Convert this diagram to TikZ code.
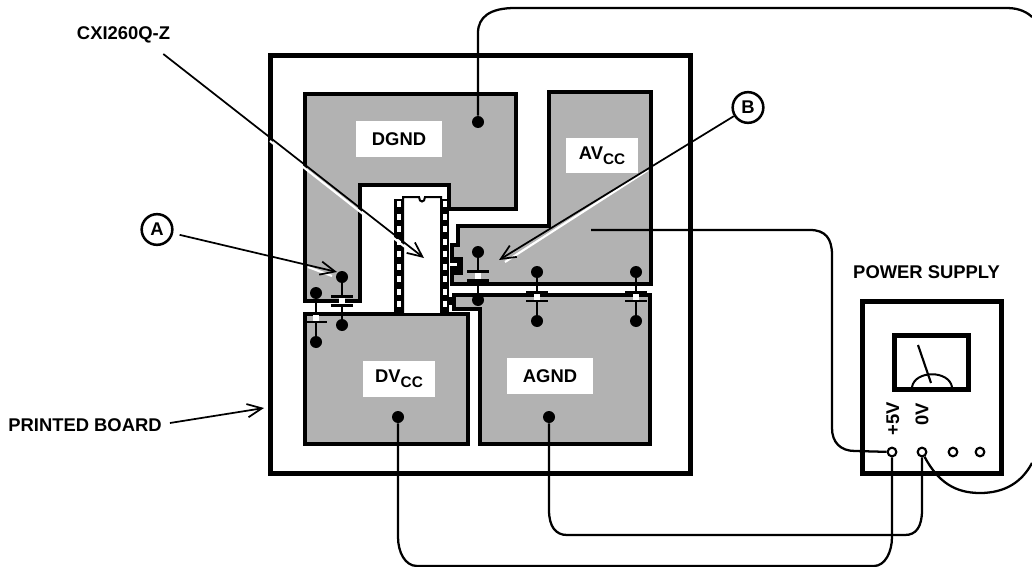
\documentclass[tikz,border=0pt]{standalone}
\usepackage{fontspec}
\setmainfont{Liberation Sans}
\usetikzlibrary{arrows.meta,calc}
\definecolor{plane}{gray}{0.70}
\newcommand{\subcc}{\raisebox{-3.5pt}{\fontsize{11.5}{12}\selectfont CC}}
\tikzset{
 x=0.75pt,y=-0.75pt,
 boardline/.style={line width=3.75pt,line join=miter},
 planeshape/.style={draw=black,fill=plane,line width=3pt,line join=miter},
 wire/.style={line width=1.7pt},
 dot/.style={circle,fill=black,inner sep=0pt,minimum size=9pt},
 hole/.style={circle,draw=black,fill=white,line width=1.6pt,inner sep=0pt,minimum size=6.5pt},
 lbl/.style={font=\bfseries\fontsize{13.8}{16}\selectfont,text=black,inner sep=0pt},
 planelbl/.style={lbl,fill=white,minimum width=#1,minimum height=27pt},
 callout/.style={circle,draw=black,line width=1.9pt,fill=white,inner sep=0pt,minimum size=23pt,font=\bfseries\fontsize{13.8}{16}\selectfont},
 pointer/.style={line width=1.3pt,-{Straight Barb[length=11pt,width=10pt,line width=1.3pt]}},
 glint/.style={white,line width=1.6pt},
 plate/.style={line width=2pt},
}
\newcommand{\capv}[4]{% name, x, top dot y, bottom dot y : plates midway
 \node[dot] (#1t) at (#2,#3) {};
 \node[dot] (#1b) at (#2,#4) {};
 \draw[line width=1.6pt] (#1t) -- (#1b);
 \fill[white] ($(#2,#3)!0.5!(#2,#4)+(-3,-3)$) rectangle ($(#2,#3)!0.5!(#2,#4)+(3,3)$);
 \draw[plate] ($(#2,#3)!0.5!(#2,#4)+(-11,-4.5)$) -- ($(#2,#3)!0.5!(#2,#4)+(11,-4.5)$);
 \draw[plate] ($(#2,#3)!0.5!(#2,#4)+(-11,4.5)$) -- ($(#2,#3)!0.5!(#2,#4)+(11,4.5)$);
}
\begin{document}
\begin{tikzpicture}
\useasboundingbox (0,0) rectangle (1032,567);
% board
\draw[boardline] (270.5,55.5) rectangle (690,473.5);
% planes
\draw[planeshape] (305,94.5) -- (516,94.5) -- (516,209) -- (449,209) -- (449,185) -- (360,185) -- (360,301) -- (305,301) -- cycle;
\draw[planeshape] (549,92.5) -- (650.5,92.5) -- (650.5,283.5) -- (452,283.5) -- (452,245) -- (458,245) -- (458,225.5) -- (549,225.5) -- cycle;
\draw[planeshape] (305,314) -- (468,314) -- (468,443.5) -- (305,443.5) -- cycle;
\draw[planeshape] (454,295) -- (650,295) -- (650,443.5) -- (480,443.5) -- (480,308.5) -- (454,308.5) -- cycle;
% chip
\fill[black] (394,199) rectangle (403,314);
\fill[black] (440,199) rectangle (449,314);
\draw[line width=1.5pt,fill=white] (403,197) -- (419,197) .. controls (419,203) and (425,203) .. (425,197) -- (441,197) -- (441,314) -- (403,314) -- cycle;
\foreach \y in {204,217,229,242,254,267,279,292,304}{
 \fill[white] (397,\y-3) rectangle (401,\y+3);
 \fill[white] (443,\y-3) rectangle (447,\y+3);
}
% chip tab
\fill[black] (450,257) rectangle (463,275);
\fill[white] (450,262.5) rectangle (457,266);
\fill[black] (447,297) rectangle (454,305);
% capacitors
\capv{ca}{342}{277}{325}
\capv{cb}{316}{293}{342}
\capv{cc}{478}{252}{300}
\capv{cd}{537}{272}{321}
\capv{ce}{636}{272}{321}
% labels
\node[planelbl=64.5pt] (dgndl) at (399,139) {DGND};
\node[planelbl=54pt,minimum height=26pt] (avccl) at (602,155.5) {\raisebox{-2.5pt}{AV\subcc}};
\node[planelbl=54pt] (dvccl) at (399,379) {\raisebox{-1pt}{DV\subcc}};
\node[planelbl=64.5pt] (agndl) at (550,376) {AGND};
\node[lbl] (chipl) at (123.5,34.5) {CXI260Q-Z};
\node[lbl] (boardl) at (85,425) {PRINTED BOARD};
\node[lbl] (psl) at (926.5,272) {POWER SUPPLY};
\node[callout] (ca1) at (157,229.5) {A};
\node[callout] (cb1) at (748,107.5) {B};
% wire dots
\node[dot] (dg) at (478,122) {};
\coordinate (av) at (591,230);
\node[dot] (dv) at (398,417) {};
\node[dot] (ag) at (549,417) {};
% power supply
\draw[boardline] (862.5,301) rectangle (1001,473.5);
\draw[line width=3.75pt] (894.5,335) rectangle (968.5,389);
\draw[line width=1.5pt] (912,387) .. controls (915,370) and (949,370) .. (952,387);
\draw[line width=1.6pt] (918,345) -- (931,383);
\node[lbl,rotate=90] (p5) at (893,419) {+5V};
\node[lbl,rotate=90] (p0) at (922,414) {0V};
\node[hole] (t1) at (892,452) {};
\node[hole] (t2) at (922,452) {};
\node[hole] (t3) at (953,452) {};
\node[hole] (t4) at (980,452) {};
% wires
\coordinate (r1) at (1032,17);
\coordinate (r2) at (1032,463);
\draw[wire] (dg) -- (478,33) .. controls (478,17) and (490,8) .. (515,8) -- (1007,8) .. controls (1020,8) and (1028,13) .. (r1);
\draw[wire] (av) -- (810,230) .. controls (825,230) and (832,238) .. (832,255) -- (832,428) .. controls (832,442) and (840,451) .. (855,451) -- (t1);
\draw[wire] (dv) -- (398,537) .. controls (398,552) and (405,566) .. (417,566) -- (874,566) .. controls (885,566) and (892,552) .. (892,537) -- (t1);
\draw[wire] (ag) -- (549,510) .. controls (549,527) and (556,535) .. (567,535) -- (905,535) .. controls (916,535) and (922,527) .. (922,510) -- (t2);
\draw[wire] (t2) .. controls (938,482) and (955,493) .. (980,493) .. controls (1005,493) and (1022,482) .. (r2);
% pointers
\coordinate (pa) at (424,258);
\coordinate (pb) at (337,272);
\coordinate (pc) at (499,260);
\coordinate (pd) at (264,408);
\draw[glint] (270,141) -- (405,247);
\draw[pointer] ([xshift=-5.25pt,yshift=-8.25pt]chipl.south east) -- (pa);
\draw[glint] (308,267) -- (332,276);
\draw[pointer,shorten <=5pt] (ca1) -- (pb);
\draw[glint] (648,170) -- (505,262);
\draw[pointer] (cb1) -- (pc);
\draw[pointer] ([xshift=6pt,yshift=1.5pt]boardl.east) -- (pd);
\end{tikzpicture}
\end{document}
